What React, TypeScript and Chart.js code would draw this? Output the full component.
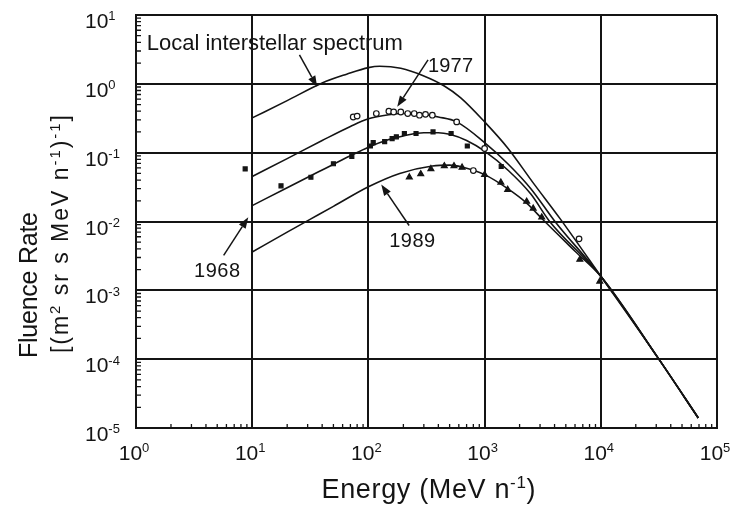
import React, { useEffect, useRef } from 'react';
import { Chart, registerables } from 'chart.js';

Chart.register(...registerables);

const FONT = '"Liberation Sans", Arial, Helvetica, sans-serif';
const INK = '#141414';

// Axis decades (exponents of ten)
const xTickExponents = [0, 1, 2, 3, 4, 5];
const yTickExponents = [1, 0, -1, -2, -3, -4, -5];

// Model curves (energy in MeV n^-1, fluence rate)
const lisEnergy = [10, 20, 40, 65, 100, 125, 190, 300, 450, 620, 1000, 1580, 2600, 4460, 10000, 31600, 69000];
const lisFlux = [0.32, 0.57, 1.03, 1.38, 1.72, 1.8, 1.68, 1.3, 0.93, 0.63, 0.28, 0.117, 0.037, 0.011, 0.0016, 1.0e-4, 1.4e-5];

const curve1977Energy = [10, 20, 40, 70, 100, 150, 200, 300, 400, 575, 1000, 1600, 2500, 4000, 10000, 31600, 69000];
const curve1977Flux = [0.045, 0.082, 0.15, 0.24, 0.31, 0.355, 0.37, 0.36, 0.33, 0.28, 0.14, 0.068, 0.03, 0.0102, 0.0016, 1.0e-4, 1.4e-5];

const curve1968Energy = [10, 20, 40, 70, 100, 150, 200, 300, 400, 500, 700, 1000, 1600, 2500, 3600, 10000, 31600, 69000];
const curve1968Flux = [0.017, 0.031, 0.056, 0.09, 0.12, 0.155, 0.175, 0.195, 0.195, 0.185, 0.15, 0.105, 0.055, 0.025, 0.0102, 0.0016, 1.0e-4, 1.4e-5];

const curve1989Energy = [10, 20, 32, 50, 100, 186, 355, 500, 640, 1000, 1580, 2300, 3200, 6000, 10000, 31600, 69000];
const curve1989Flux = [0.0036, 0.007, 0.0109, 0.0166, 0.032, 0.05, 0.064, 0.066, 0.062, 0.048, 0.03, 0.0185, 0.0105, 0.0037, 0.0016, 1.0e-4, 1.4e-5];

// Measured points
const obs1977Energy = [74, 80, 117, 150, 165, 190, 218, 248, 275, 310, 355, 575, 800, 1000, 6500];
const obs1977Flux = [0.33, 0.34, 0.37, 0.4, 0.39, 0.39, 0.37, 0.37, 0.35, 0.36, 0.35, 0.28, 0.055, 0.115, 0.0056];

const obs1968Energy = [8.7, 17.7, 32, 50, 72, 104, 110, 138, 160, 174, 204, 257, 360, 515, 710, 1390];
const obs1968Flux = [0.058, 0.033, 0.044, 0.069, 0.088, 0.125, 0.14, 0.145, 0.16, 0.17, 0.19, 0.19, 0.2, 0.19, 0.125, 0.063];

const obs1989Energy = [225, 282, 345, 450, 545, 640, 1000, 1380, 1580, 2300, 2620, 3100, 6600, 9800];
const obs1989Flux = [0.044, 0.049, 0.058, 0.064, 0.064, 0.061, 0.048, 0.037, 0.029, 0.0195, 0.0155, 0.0115, 0.0028, 0.00135];

// Annotation labels and arrows (anchored in data coordinates)
const annotations = [
  { text: 'Local interstellar spectrum', textE: 1.24, textF: 3.11, size: 22, width: 256, tailE: 25.5, tailF: 2.63, tipE: 36.2, tipF: 0.905 },
  { text: '1977', textE: 326, textF: 1.49, size: 20, width: 45, tailE: 326, tailF: 2.23, tipE: 177, tipF: 0.464 },
  { text: '1968', textE: 3.16, textF: 0.00155, size: 20, width: 46, tailE: 5.68, tailF: 0.00322, tipE: 9.25, tipF: 0.0115 },
  { text: '1989', textE: 151, textF: 0.0042, size: 20, width: 46, tailE: 224, tailF: 0.00875, tipE: 129, tipF: 0.0344 },
];

const pts = (xs: number[], ys: number[]) => xs.map((x, i) => ({ x, y: ys[i] }));

type Seg = { t: string; sup?: boolean };

function segFont(size: number, sup?: boolean) {
  return `${sup ? Math.round(size * 0.64) : size}px ${FONT}`;
}

function drawRich(
  ctx: CanvasRenderingContext2D,
  segs: Seg[],
  x: number,
  y: number,
  size: number,
  opts: { align?: 'left' | 'center' | 'right'; width?: number; rotate?: number } = {}
) {
  let natural = 0;
  let n = 0;
  for (const s of segs) {
    ctx.font = segFont(size, s.sup);
    for (const ch of s.t) {
      natural += ctx.measureText(ch).width;
      n++;
    }
  }
  const spacing = opts.width && n > 1 ? (opts.width - natural) / (n - 1) : 0;
  const total = natural + spacing * (n - 1);
  ctx.save();
  ctx.translate(x, y);
  if (opts.rotate) ctx.rotate(opts.rotate);
  ctx.textAlign = 'left';
  ctx.textBaseline = 'alphabetic';
  let cx = opts.align === 'center' ? -total / 2 : opts.align === 'right' ? -total : 0;
  for (const s of segs) {
    ctx.font = segFont(size, s.sup);
    const dy = s.sup ? -size * 0.36 : 0;
    for (const ch of s.t) {
      ctx.fillText(ch, cx, dy);
      cx += ctx.measureText(ch).width + spacing;
    }
  }
  ctx.restore();
}

function drawArrow(ctx: CanvasRenderingContext2D, x0: number, y0: number, x1: number, y1: number) {
  const ang = Math.atan2(y1 - y0, x1 - x0);
  const len = 11;
  const hw = 4;
  const bx = x1 - Math.cos(ang) * len;
  const by = y1 - Math.sin(ang) * len;
  ctx.beginPath();
  ctx.moveTo(x0, y0);
  ctx.lineTo(bx, by);
  ctx.lineWidth = 1.5;
  ctx.stroke();
  ctx.beginPath();
  ctx.moveTo(x1, y1);
  ctx.lineTo(bx + Math.sin(ang) * hw, by - Math.cos(ang) * hw);
  ctx.lineTo(bx - Math.sin(ang) * hw, by + Math.cos(ang) * hw);
  ctx.closePath();
  ctx.fill();
}

const decorPlugin = {
  id: 'decor',
  afterDraw(chart: any) {
    const { ctx, chartArea: a, scales } = chart;
    const xs = scales.x;
    const ys = scales.y;
    ctx.save();
    ctx.fillStyle = INK;
    ctx.strokeStyle = INK;

    // inward minor ticks
    ctx.lineWidth = 1.3;
    ctx.beginPath();
    for (let e = -5; e < 1; e++) {
      for (let m = 2; m <= 9; m++) {
        const py = ys.getPixelForValue(m * Math.pow(10, e));
        ctx.moveTo(a.left, py);
        ctx.lineTo(a.left + 5, py);
      }
    }
    for (let e = 0; e < 5; e++) {
      for (let m = 2; m <= 9; m++) {
        const px = xs.getPixelForValue(m * Math.pow(10, e));
        ctx.moveTo(px, a.bottom);
        ctx.lineTo(px, a.bottom - 4);
      }
    }
    ctx.stroke();

    // y tick labels
    for (const t of ys.ticks) {
      const e = Math.round(Math.log10(t.value));
      const py = ys.getPixelForValue(t.value);
      drawRich(ctx, [{ t: '10' }, { t: String(e), sup: true }], a.left - 51, py + 13, 21);
    }
    // x tick labels
    for (const t of xs.ticks) {
      const e = Math.round(Math.log10(t.value));
      const px = xs.getPixelForValue(t.value);
      drawRich(ctx, [{ t: '10' }, { t: String(e), sup: true }], px - 2, a.bottom + 32, 21, { align: 'center' });
    }

    // axis titles
    drawRich(ctx, [{ t: 'Energy (MeV n' }, { t: '-1', sup: true }, { t: ')' }], (a.left + a.right) / 2 + 2, a.bottom + 70, 27, {
      align: 'center',
      width: 214,
    });
    drawRich(ctx, [{ t: 'Fluence Rate' }], a.left - 99, a.bottom - 70, 25, { rotate: -Math.PI / 2, width: 146 });
    drawRich(
      ctx,
      [{ t: '[(m' }, { t: '2', sup: true }, { t: ' sr s MeV n' }, { t: '-1', sup: true }, { t: ')' }, { t: '-1', sup: true }, { t: ']' }],
      a.left - 68,
      a.bottom - 75,
      23,
      { rotate: -Math.PI / 2, width: 238 }
    );

    // annotations
    for (const an of annotations) {
      drawRich(ctx, [{ t: an.text }], xs.getPixelForValue(an.textE), ys.getPixelForValue(an.textF), an.size, { width: an.width });
      drawArrow(
        ctx,
        xs.getPixelForValue(an.tailE),
        ys.getPixelForValue(an.tailF),
        xs.getPixelForValue(an.tipE),
        ys.getPixelForValue(an.tipF)
      );
    }
    ctx.restore();
  },
};

export default function App() {
  const canvasRef = useRef<HTMLCanvasElement | null>(null);

  useEffect(() => {
    const canvas = canvasRef.current;
    if (!canvas) return;

    const curve = (data: { x: number; y: number }[]) => ({
      data,
      borderColor: INK,
      borderWidth: 1.6,
      pointRadius: 0,
      fill: false,
      cubicInterpolationMode: 'monotone' as const,
      showLine: true,
      order: 2,
    });
    const marks = (data: { x: number; y: number }[], style: string, radius: number, bg: string) => ({
      data,
      showLine: false,
      pointStyle: style,
      pointRadius: radius,
      pointBackgroundColor: bg,
      pointBorderColor: INK,
      pointBorderWidth: 1.2,
      order: 1,
    });

    const chart = new Chart(canvas, {
      type: 'line',
      data: {
        datasets: [
          curve(pts(lisEnergy, lisFlux)),
          curve(pts(curve1977Energy, curve1977Flux)),
          curve(pts(curve1968Energy, curve1968Flux)),
          curve(pts(curve1989Energy, curve1989Flux)),
          marks(pts(obs1977Energy, obs1977Flux), 'circle', 2.8, '#ffffff'),
          marks(pts(obs1968Energy, obs1968Flux), 'rect', 2.8, INK),
          marks(pts(obs1989Energy, obs1989Flux), 'triangle', 3.4, INK),
        ] as any,
      },
      options: {
        animation: false,
        responsive: true,
        maintainAspectRatio: false,
        devicePixelRatio: 1,
        layout: { padding: { top: 15, right: 24, left: 0, bottom: 0 } },
        plugins: { legend: { display: false }, tooltip: { enabled: false } },
        events: [],
        scales: {
          x: {
            type: 'logarithmic',
            min: 1,
            max: 1e5,
            ticks: { display: false },
            grid: { color: INK, lineWidth: 2, drawTicks: false },
            border: { display: true, color: INK, width: 2 },
            afterBuildTicks: (s: any) => {
              s.ticks = xTickExponents.map((e) => ({ value: Math.pow(10, e), major: true }));
            },
            afterFit: (s: any) => {
              s.height = 82;
            },
          },
          y: {
            type: 'logarithmic',
            min: 1e-5,
            max: 10,
            ticks: { display: false },
            grid: { color: INK, lineWidth: 2, drawTicks: false },
            border: { display: true, color: INK, width: 2 },
            afterBuildTicks: (s: any) => {
              s.ticks = yTickExponents.map((e) => ({ value: Math.pow(10, e), major: true }));
            },
            afterFit: (s: any) => {
              s.width = 136;
            },
          },
        },
      } as any,
      plugins: [decorPlugin],
    });

    return () => chart.destroy();
  }, []);

  return (
    <div style={{ position: 'fixed', left: 0, top: 0, width: 741, height: 510, background: '#ffffff' }}>
      <canvas ref={canvasRef} />
    </div>
  );
}
